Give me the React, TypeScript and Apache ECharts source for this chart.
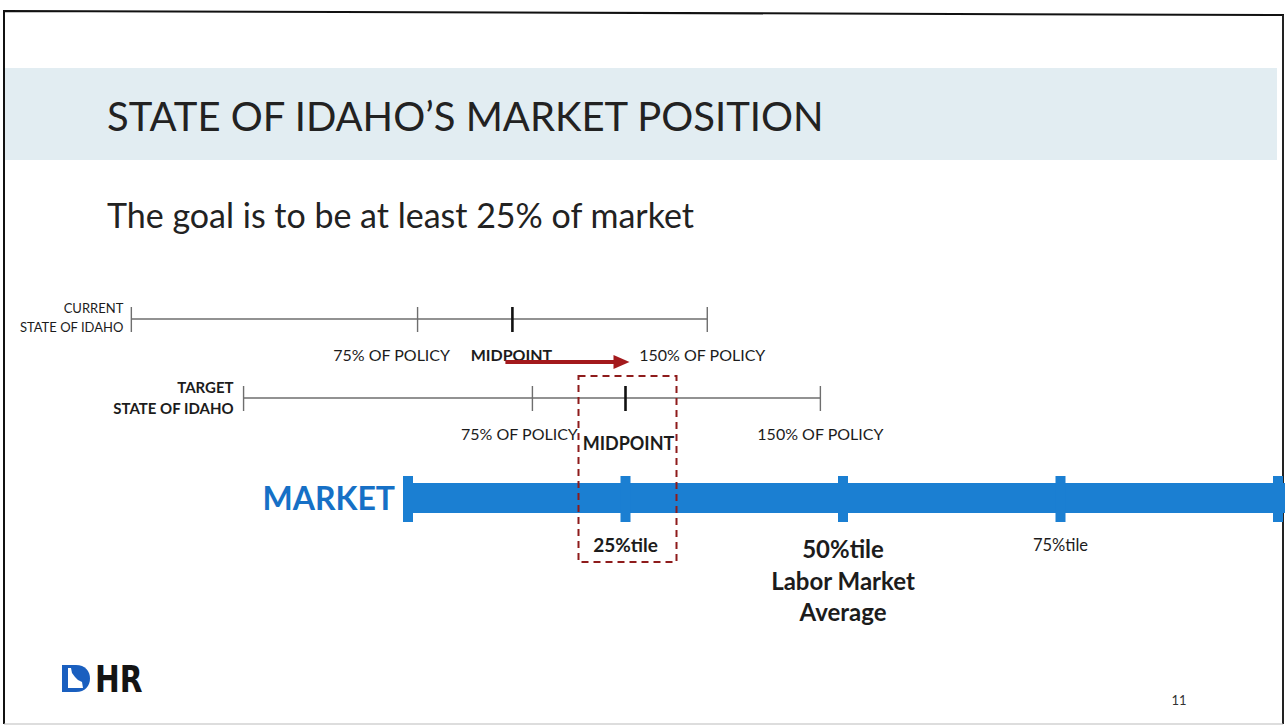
import React, { useEffect, useRef } from "react";
import * as echarts from "echarts";

// ---------- data ----------
const titleText = "STATE OF IDAHO’S MARKET POSITION";
const subtitleText = "The goal is to be at least 25% of market";
const rowTitles = [
  ["CURRENT", "STATE OF IDAHO"],
  ["TARGET", "STATE OF IDAHO"],
];
// positions on the market percentile scale: [range start, 75% of policy, midpoint, 150% of policy]
const currentRange = [-31.8, 1.1, 12.0, 34.4];
const targetRange = [-18.9, 14.3, 25.0, 47.4];
const policyLabels = ["75% OF POLICY", "MIDPOINT", "150% OF POLICY"];
const marketName = "MARKET";
const marketPercentiles = [0, 25, 50, 75, 100];
const marketLabels = ["", "25%tile", "50%tile\nLabor Market\nAverage", "75%tile", ""];
const logoText = "HR";
const pageNumber = "11";

// ---------- layout / style ----------
const FONT = "Lato, 'Open Sans', 'DejaVu Sans', sans-serif";
const ROW_Y = [319, 398];
const MARKET_Y = 498;
const ARROW_Y = 362;
const LINE_GRAY = "#6e6e6e";
const TEXT = "#1c1c1c";
const BLUE = "#1b7fd2";
const DARK_RED = "#8e1b1b";
const ROW_TITLE = [
  { gap: 8, dy: [-11, 8], size: 13, weight: "normal" },
  { gap: 10, dy: [-11, 10], size: 15, weight: "bold" },
];
// [dx from tick, dy from line, fontSize, weight]
const POLICY_LABEL_STYLE: any[] = [
  [[-26, 35, 16, "normal"], [-1, 35, 16, "bold"], [-5, 35, 16, "normal"]],
  [[-13, 35, 16, "normal"], [3, 45, 18, "bold"], [0, 35, 16, "normal"]],
];
// [dy, fontSize, weight, lineHeight]
const MARKET_LABEL_STYLE: any[] = [
  [0, 15, "normal", 20],
  [34, 19, "bold", 24],
  [35, 24, "bold", 31.5],
  [37, 16.5, "normal", 20],
  [0, 15, "normal", 20],
];

echarts.graphic.registerShape(
  "logoD",
  echarts.graphic.extendPath("M0 0 H14 C23 0 28 6 28 13.5 C28 21 23 27 14 27 H0 Z", {})
);

function renderRow(params: any, api: any) {
  const i = params.dataIndex;
  const y = api.coord([0, ROW_Y[i]])[1];
  const xs = [0, 1, 2, 3].map((k) => api.coord([api.value(k), ROW_Y[i]])[0]);
  const children: any[] = [];
  children.push({
    type: "line",
    shape: { x1: xs[0], y1: y, x2: xs[3], y2: y },
    style: { stroke: LINE_GRAY, lineWidth: 1.5 },
  });
  xs.forEach((x, k) => {
    const mid = k === 2;
    children.push({
      type: "line",
      shape: { x1: x, y1: y - 12, x2: x, y2: y + 13 },
      style: { stroke: mid ? "#111" : LINE_GRAY, lineWidth: mid ? 2.6 : 1.4 },
    });
  });
  const ts = ROW_TITLE[i];
  rowTitles[i].forEach((t, k) => {
    children.push({
      type: "text",
      x: xs[0] - ts.gap,
      y: y + ts.dy[k],
      style: {
        text: t,
        align: "right",
        verticalAlign: "middle",
        fontFamily: FONT,
        fontSize: ts.size,
        fontWeight: ts.weight,
        fill: TEXT,
      },
    });
  });
  policyLabels.forEach((t, k) => {
    const s = POLICY_LABEL_STYLE[i][k];
    children.push({
      type: "text",
      x: xs[k + 1] + s[0],
      y: y + s[1],
      style: {
        text: t,
        align: "center",
        verticalAlign: "middle",
        fontFamily: FONT,
        fontSize: s[2],
        fontWeight: s[3],
        fill: TEXT,
      },
    });
  });
  return { type: "group", children };
}

function renderMarketBar(params: any, api: any) {
  const p0 = api.coord([api.value(0), MARKET_Y]);
  const p1 = api.coord([api.value(1), MARKET_Y]);
  return {
    type: "group",
    children: [
      {
        type: "rect",
        shape: { x: p0[0], y: p0[1] - 15, width: p1[0] - p0[0] + 8, height: 30 },
        style: { fill: BLUE },
      },
      {
        type: "text",
        x: p0[0] - 13,
        y: p0[1] - 1,
        style: {
          text: marketName,
          align: "right",
          verticalAlign: "middle",
          fontFamily: FONT,
          fontSize: 32,
          fontWeight: "bold",
          fill: "#1670c6",
        },
      },
    ],
  };
}

function renderMarketTick(params: any, api: any) {
  const i = params.dataIndex;
  const p = api.coord([api.value(0), MARKET_Y]);
  const s = MARKET_LABEL_STYLE[i];
  const children: any[] = [
    {
      type: "rect",
      shape: { x: p[0] - 5, y: p[1] - 22, width: 10, height: 46 },
      style: { fill: BLUE },
    },
  ];
  if (marketLabels[i]) {
    children.push({
      type: "text",
      x: p[0],
      y: p[1] + s[0],
      style: {
        text: marketLabels[i],
        align: "center",
        verticalAlign: "top",
        fontFamily: FONT,
        fontSize: s[1],
        fontWeight: s[2],
        lineHeight: s[3],
        fill: TEXT,
      },
    });
  }
  return { type: "group", children };
}

function renderAnnotation(params: any, api: any) {
  const xc = api.coord([api.value(0), ARROW_Y])[0];
  const xt = api.coord([api.value(1), ARROW_Y])[0];
  const y = api.coord([0, ARROW_Y])[1];
  return {
    type: "group",
    children: [
      {
        type: "line",
        shape: { x1: xc - 7, y1: y, x2: xt - 10, y2: y },
        style: { stroke: "#a3191c", lineWidth: 4 },
      },
      {
        type: "polygon",
        shape: { points: [[xt - 12, y - 7], [xt + 4, y], [xt - 12, y + 7]] },
        style: { fill: "#a3191c" },
      },
      {
        type: "rect",
        shape: { x: xt - 47, y: 376, width: 98, height: 186 },
        style: { fill: "none", stroke: DARK_RED, lineWidth: 2, lineDash: [7, 5] },
      },
    ],
  };
}

export default function App() {
  const ref = useRef<HTMLDivElement>(null);
  useEffect(() => {
    if (!ref.current) return;
    const chart = echarts.init(ref.current, undefined, { renderer: "svg" });
    chart.setOption({
      animation: false,
      backgroundColor: "#ffffff",
      grid: { left: 60, right: 7, top: 0, bottom: 0 },
      xAxis: { type: "value", min: -40, max: 100, show: false },
      yAxis: { type: "value", min: 0, max: 728, inverse: true, show: false },
      graphic: [
        {
          type: "rect",
          shape: { x: 5, y: 68, width: 1272, height: 92 },
          style: { fill: "#e2edf2" },
          z: 0,
        },
        {
          type: "polyline",
          shape: { points: [[4, 724], [4, 11], [1284, 15]] },
          style: { stroke: "#111", lineWidth: 2, fill: "none" },
        },
        {
          type: "line",
          shape: { x1: 1283, y1: 15, x2: 1283, y2: 724 },
          style: { stroke: "#222", lineWidth: 2 },
        },
        {
          type: "line",
          shape: { x1: 4, y1: 724, x2: 1283, y2: 724 },
          style: { stroke: "#bbb", lineWidth: 1 },
        },
        {
          type: "text",
          x: 107,
          y: 116,
          style: {
            text: titleText,
            align: "left",
            verticalAlign: "middle",
            fontFamily: FONT,
            fontSize: 40,
            fill: "#222",
          },
        },
        {
          type: "text",
          x: 107,
          y: 214,
          style: {
            text: subtitleText,
            align: "left",
            verticalAlign: "middle",
            fontFamily: FONT,
            fontSize: 34,
            fill: "#222",
          },
        },
        {
          type: "logoD",
          x: 62,
          y: 665,
          style: { fill: "#1a5fbf" },
        },
        {
          type: "polygon",
          shape: {
            points: [[68, 668], [71, 668], [72, 673], [75, 677], [78, 680], [82, 682], [83, 688], [68, 688]],
          },
          style: { fill: "#ffffff" },
        },
        {
          type: "text",
          x: 95,
          y: 679,
          scaleX: 0.8,
          style: {
            text: logoText,
            align: "left",
            verticalAlign: "middle",
            fontFamily: "'DejaVu Sans', sans-serif",
            fontWeight: "bold",
            fontSize: 37,
            fill: "#141414",
          },
        },
        {
          type: "text",
          x: 1179,
          y: 700,
          style: {
            text: pageNumber,
            align: "center",
            verticalAlign: "middle",
            fontFamily: FONT,
            fontSize: 13,
            fill: "#333",
          },
        },
      ],
      series: [
        {
          type: "custom",
          name: "policy ranges",
          data: [currentRange, targetRange],
          renderItem: renderRow,
          clip: false,
          silent: true,
        },
        {
          type: "custom",
          name: "market bar",
          data: [[marketPercentiles[0], marketPercentiles[marketPercentiles.length - 1]]],
          renderItem: renderMarketBar,
          clip: false,
          silent: true,
        },
        {
          type: "custom",
          name: "market ticks",
          data: marketPercentiles.map((p, i) => [p, i]),
          renderItem: renderMarketTick,
          clip: false,
          silent: true,
        },
        {
          type: "custom",
          name: "move",
          data: [[currentRange[2], targetRange[2]]],
          renderItem: renderAnnotation,
          clip: false,
          silent: true,
        },
      ],
    });
    return () => chart.dispose();
  }, []);
  return (
    <div
      ref={ref}
      style={{ position: "absolute", left: 0, top: 0, width: 1285, height: 728 }}
    />
  );
}
